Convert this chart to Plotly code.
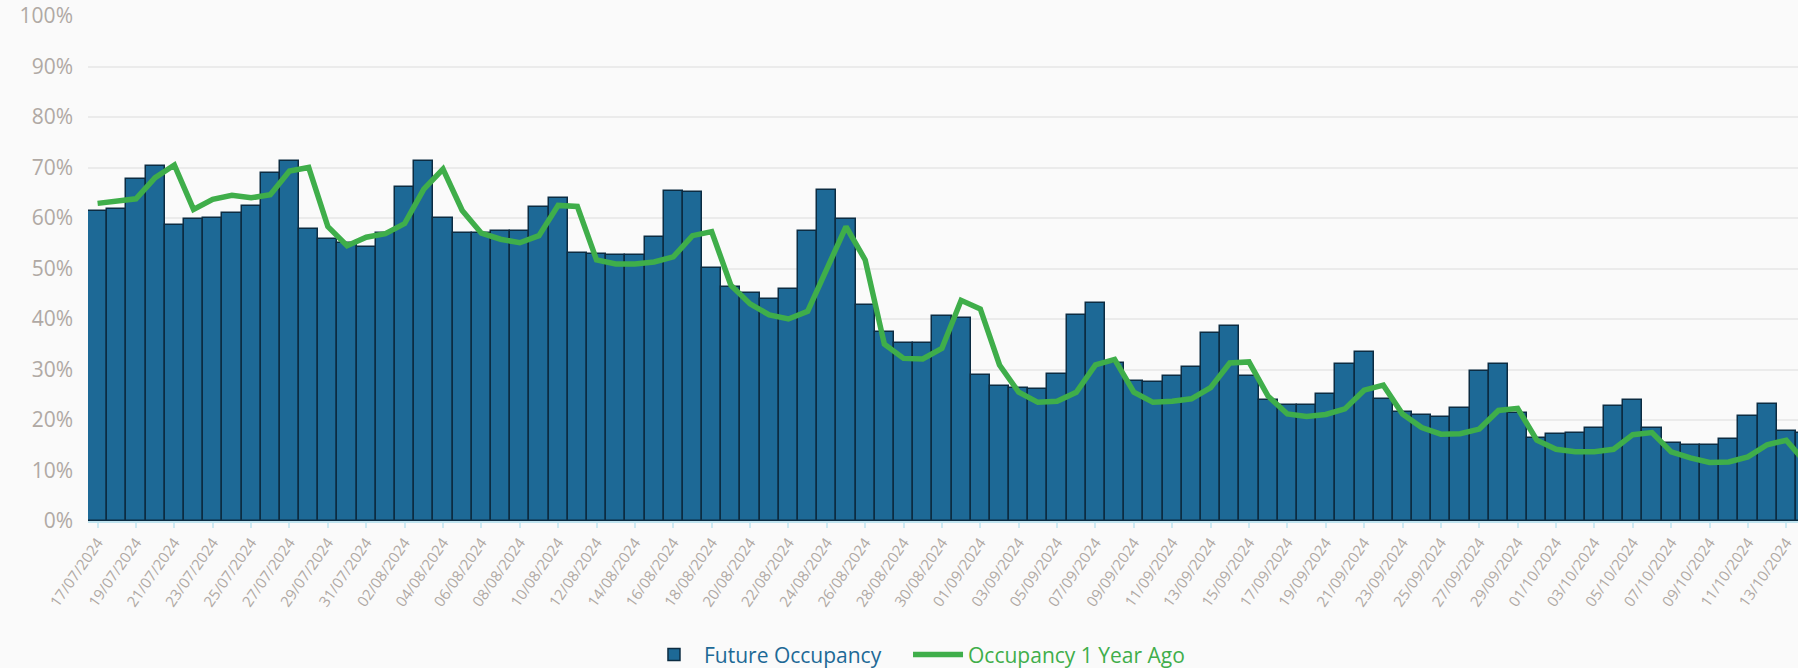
import pandas as pd
import plotly.graph_objects as go

# Categories: one per day, 17/07/2024 .. 14/10/2024
dates = [d.strftime("%d/%m/%Y") for d in pd.date_range("2024-07-17", "2024-10-14", freq="D")]

future_occupancy = [
    61.3, 61.7, 67.7, 70.2, 58.6, 59.9, 60.1, 61.0, 62.3, 68.9,
    71.2, 57.9, 55.8, 55.0, 54.3, 57.1, 66.1, 71.3, 60.1, 57.0,
    57.0, 57.5, 57.5, 62.2, 64.0, 53.1, 52.9, 52.7, 52.6, 56.3,
    65.3, 65.1, 50.1, 46.4, 45.2, 43.9, 46.0, 57.5, 65.5, 59.8,
    42.7, 37.4, 35.3, 35.2, 40.6, 40.2, 28.9, 26.8, 26.3, 26.1,
    29.1, 40.8, 43.1, 31.3, 27.7, 27.5, 28.7, 30.4, 37.3, 38.6,
    28.7, 23.9, 22.9, 22.9, 25.1, 31.1, 33.4, 24.1, 21.6, 20.9,
    20.6, 22.3, 29.7, 31.1, 21.3, 16.4, 17.2, 17.5, 18.5, 22.7,
    23.9, 18.5, 15.4, 15.0, 15.0, 16.2, 20.8, 23.2, 17.9, 17.5,
]

occupancy_1y_ago = [
    62.9, 63.3, 63.8, 68.0, 70.5, 61.7, 63.7, 64.5, 64.0, 64.6,
    69.3, 70.0, 58.3, 54.5, 56.2, 56.9, 58.9, 65.7, 69.7, 61.5,
    57.0, 55.8, 55.1, 56.5, 62.5, 62.3, 51.7, 50.9, 50.9, 51.3,
    52.3, 56.5, 57.3, 46.7, 43.0, 40.8, 40.0, 41.5, 49.7, 58.3,
    51.7, 35.0, 32.2, 32.1, 34.2, 43.7, 42.0, 30.9, 25.5, 23.5,
    23.7, 25.5, 30.9, 32.0, 25.5, 23.5, 23.7, 24.2, 26.4, 31.3,
    31.5, 24.7, 21.2, 20.7, 21.1, 22.2, 25.9, 26.9, 21.2, 18.5,
    17.2, 17.3, 18.2, 21.9, 22.3, 16.0, 14.2, 13.7, 13.7, 14.2,
    17.1, 17.5, 13.7, 12.5, 11.6, 11.7, 12.7, 15.1, 16.0, 11.6,
]

tick_labels = dates[::2]

BLUE = "#1d6996"
BLUE_EDGE = "#0c2c42"
GREEN = "#3fae4a"
GRAY = "#b0a9a4"
FONT = "Open Sans"

fig = go.Figure()
fig.add_trace(go.Bar(
    x=dates, y=[v / 100 for v in future_occupancy],
    name=f"<span style='color:{BLUE}'>Future Occupancy</span>&nbsp;&nbsp;&nbsp;&nbsp;",
    marker=dict(color=BLUE, line=dict(color=BLUE_EDGE, width=1.5)),
))
fig.add_trace(go.Scatter(
    x=dates, y=[v / 100 for v in occupancy_1y_ago],
    name=f"<span style='color:{GREEN}'>Occupancy 1 Year Ago</span>",
    mode="lines", line=dict(color=GREEN, width=5.5),
))

fig.update_layout(
    width=1798, height=668,
    margin=dict(l=88, r=0, t=16, b=147, autoexpand=False),
    paper_bgcolor="#fafafa", plot_bgcolor="#fafafa",
    bargap=0,
    font=dict(family=FONT, color=GRAY),
    showlegend=True,
    legend=dict(
        orientation="h", xref="container", yref="container",
        x=0.51, xanchor="center", y=0.0195, yanchor="middle",
        font=dict(size=21, family=FONT), bgcolor="rgba(0,0,0,0)",
        itemwidth=50,
    ),
    xaxis=dict(
        type="category", range=[-0.5, 88.61], automargin=False,
        tickmode="array", tickvals=tick_labels, ticktext=tick_labels,
        tickangle=-55, tickfont=dict(size=15, color=GRAY, family=FONT),
        showgrid=False, showline=True, linecolor="#bfe3ef", linewidth=2,
        ticks="outside", ticklen=5, tickcolor="#cdeaf3", tickwidth=1.5,
        ticklabeloverflow="allow",
    ),
    yaxis=dict(
        range=[0, 1], dtick=0.1, tickformat=".0%", automargin=False,
        tickfont=dict(size=21, color=GRAY, family=FONT),
        showgrid=True, gridcolor="#ebebeb", gridwidth=2,
        zeroline=False, ticklabelstandoff=14, ticklabeloverflow="allow",
    ),
)

fig.write_html(
    "out.html",
    config={"displayModeBar": False},
    post_script="document.body.style.margin='0';document.body.style.background='#fafafa';",
)
